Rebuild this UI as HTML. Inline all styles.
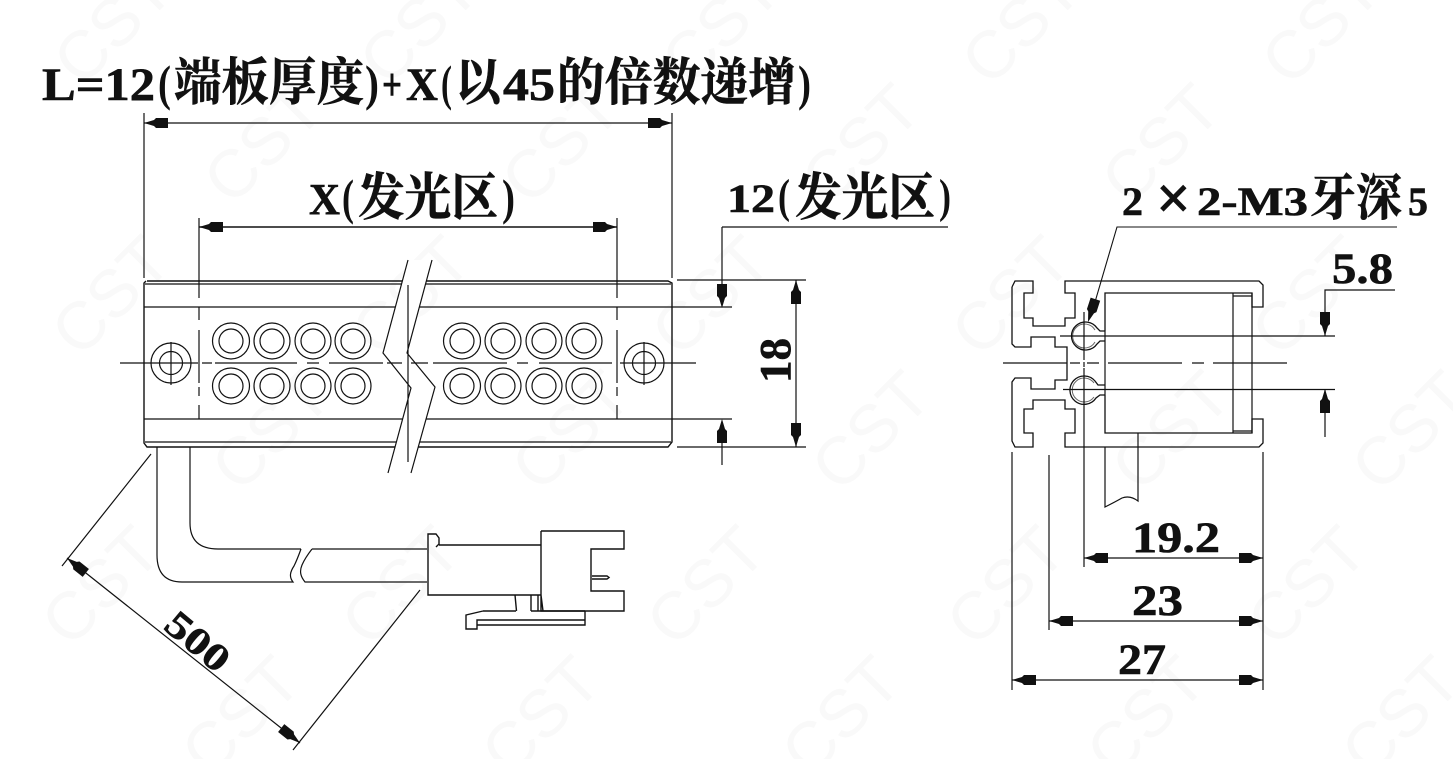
<!DOCTYPE html>
<html><head><meta charset="utf-8"><style>
html,body{margin:0;padding:0;background:#fff;width:1453px;height:759px;overflow:hidden}
svg{display:block}
.t{font-family:"Liberation Serif","Noto Serif CJK SC",serif;font-weight:bold;fill:#111;stroke:#111;stroke-width:.6}
.p{stroke-width:0}
.w{font-family:"Liberation Sans",sans-serif;font-size:67px;fill:#f9f9f9}
</style></head><body>
<div style="width:1453px;height:759px;overflow:hidden;position:relative">
<svg width="1453" height="759" viewBox="0 0 1453 759" xmlns="http://www.w3.org/2000/svg">
<defs><polygon id="a" points="0,0 -10,-3 -12,-5 -24,-5 -24,5 -12,5 -10,3" fill="#111"/></defs>
<rect width="1453" height="759" fill="#fff"/>
<g class="w" text-anchor="middle">
<text transform="translate(112,24) rotate(-45)" dy="24">CST</text><text transform="translate(418,24) rotate(-45)" dy="24">CST</text><text transform="translate(720,24) rotate(-45)" dy="24">CST</text><text transform="translate(1020,24) rotate(-45)" dy="24">CST</text><text transform="translate(1320,24) rotate(-45)" dy="24">CST</text>
<text transform="translate(262,143) rotate(-45)" dy="24">CST</text><text transform="translate(560,143) rotate(-45)" dy="24">CST</text><text transform="translate(860,143) rotate(-45)" dy="24">CST</text><text transform="translate(1160,143) rotate(-45)" dy="24">CST</text>
<text transform="translate(110,295) rotate(-45)" dy="24">CST</text><text transform="translate(410,295) rotate(-45)" dy="24">CST</text><text transform="translate(710,295) rotate(-45)" dy="24">CST</text><text transform="translate(1010,295) rotate(-45)" dy="24">CST</text><text transform="translate(1310,295) rotate(-45)" dy="24">CST</text>
<text transform="translate(270,430) rotate(-45)" dy="24">CST</text><text transform="translate(570,430) rotate(-45)" dy="24">CST</text><text transform="translate(870,430) rotate(-45)" dy="24">CST</text><text transform="translate(1170,430) rotate(-45)" dy="24">CST</text><text transform="translate(1410,430) rotate(-45)" dy="24">CST</text>
<text transform="translate(100,585) rotate(-45)" dy="24">CST</text><text transform="translate(400,585) rotate(-45)" dy="24">CST</text><text transform="translate(705,585) rotate(-45)" dy="24">CST</text><text transform="translate(1005,585) rotate(-45)" dy="24">CST</text><text transform="translate(1306,585) rotate(-45)" dy="24">CST</text>
<text transform="translate(240,715) rotate(-45)" dy="24">CST</text><text transform="translate(540,715) rotate(-45)" dy="24">CST</text><text transform="translate(840,715) rotate(-45)" dy="24">CST</text><text transform="translate(1145,715) rotate(-45)" dy="24">CST</text><text transform="translate(1400,715) rotate(-45)" dy="24">CST</text>
</g>

<g fill="none" stroke="#111" stroke-width="1.2">
<path d="M147,281H668L672,283V442L668,447H147L144,443V283L146,281" stroke-width="1.4"/>
<path d="M145,284H671M145,442H671M144,307H732M144,419H732"/>
<path d="M144,113V278M672,113V278M144,123H672"/>
<path d="M199,218V298M199,307V320M199,330V383M199,387V396M199,405V419"/>
<path d="M617,218V298M617,307V320M617,330V383M617,387V396M617,405V419"/>
<path d="M199,227H617" stroke-width="1.6"/>
<path d="M120,363H198M202,363H212M215,363H297M307,363H319M329,363H383"/>
<path d="M433,363H507M517,363H528M539,363H612M620,363H696"/>
<g>
<ellipse cx="231" cy="341" rx="18.500" ry="18"/><ellipse cx="231" cy="341" rx="12" ry="12"/>
<ellipse cx="272" cy="341" rx="18" ry="18"/><ellipse cx="272" cy="341" rx="12" ry="12"/>
<ellipse cx="313" cy="341" rx="18" ry="18"/><ellipse cx="313" cy="341" rx="12" ry="12"/>
<ellipse cx="353" cy="341" rx="18" ry="18"/><ellipse cx="353" cy="341" rx="12" ry="12"/>
<ellipse cx="231" cy="386" rx="18.500" ry="18"/><ellipse cx="231" cy="386" rx="12" ry="12"/>
<ellipse cx="272" cy="386" rx="18" ry="18"/><ellipse cx="272" cy="386" rx="12" ry="12"/>
<ellipse cx="313" cy="386" rx="18" ry="18"/><ellipse cx="313" cy="386" rx="12" ry="12"/>
<ellipse cx="353" cy="386" rx="18" ry="18"/><ellipse cx="353" cy="386" rx="12" ry="12"/>
<ellipse cx="462" cy="341" rx="18.500" ry="18"/><ellipse cx="462" cy="341" rx="12" ry="12"/>
<ellipse cx="503" cy="341" rx="18" ry="18"/><ellipse cx="503" cy="341" rx="12" ry="12"/>
<ellipse cx="544" cy="341" rx="18" ry="18"/><ellipse cx="544" cy="341" rx="12" ry="12"/>
<ellipse cx="584" cy="341" rx="18" ry="18"/><ellipse cx="584" cy="341" rx="12" ry="12"/>
<ellipse cx="462" cy="386" rx="18.500" ry="18"/><ellipse cx="462" cy="386" rx="12" ry="12"/>
<ellipse cx="503" cy="386" rx="18" ry="18"/><ellipse cx="503" cy="386" rx="12" ry="12"/>
<ellipse cx="544" cy="386" rx="18" ry="18"/><ellipse cx="544" cy="386" rx="12" ry="12"/>
<ellipse cx="584" cy="386" rx="18" ry="18"/><ellipse cx="584" cy="386" rx="12" ry="12"/>
</g>
<circle cx="171" cy="363" r="20"/><circle cx="171" cy="363" r="11.500"/><path d="M171,342V385"/>
<circle cx="644" cy="363" r="20"/><circle cx="644" cy="363" r="11.500"/><path d="M644,342V385"/>
<polygon points="408,260 383,353 411,388 388,473 411,473 435,387 407,353 432,260" fill="#fff" stroke="none"/>
<path d="M408,260L383,353L411,388L388,473M432,260L407,353L435,387L411,473M408,285V462"/>
<path d="M387,363H402M411,363H428"/>
<path d="M677,280H806M677,447H806M796,280V447M722,227V285M722,442V465M722,227H948"/>
<path d="M157,447V555Q157,582 182,582H293C289,577 290,572 294,566Q297,560 301,549"/>
<path d="M190,447V523Q190,549 218,549H301"/>
<path d="M312,549Q305,558 302,565C299,572 301,577 305,582H427M312,549H427"/>
<path d="M428,550V534H436L439,538V544L436,547M439,545H541M428,534V595H541M541,531H624V549H591V591H624V611H541V531M592,576H607L609,577.500L607,579H592M515,595L516.500,611M531,595V611M538,595V611M541,595L543,611" stroke-width="1.4"/>
<path d="M483,611L466,615V629H477V625H585V611M483,611H516M531,611H585M477,625V620H585" stroke-width="1.4"/>
<path d="M151,454L62,566M420,590L293,750M67,558L300,743"/>
<path d="M1012,287L1015,281H1033V293H1024V318H1033V326H1065V318H1075V293H1065V281H1259L1263,285V307H1252V293H1105V331" stroke-width="1.3"/>
<path d="M1012,287V344L1015,347H1031V337H1055V347H1067V380H1055V389H1031V378H1015L1012,382V441L1015,447H1033V433H1024V409H1033V400H1065V409H1075V433H1065V447H1259L1263,443V419H1252V433H1105V395" stroke-width="1.3"/>
<path d="M1105,331V395M1233,293V433M1252,293V433M1233,296H1252M1233,431H1252"/>
<path d="M1105,447V507Q1115,502 1122,498Q1130,495 1138,501V433"/>
<path d="M1105,331H1100L1097,328A14,14 0 1 0 1097,344L1100,341H1105" stroke-width="1.3"/>
<path d="M1095,330A12,12 0 1 0 1095,342" stroke="#666" stroke-width="1"/>
<path d="M1105,385H1098L1095,381A14.200,14.200 0 1 0 1096,398L1100,395H1105" stroke-width="1.3"/>
<path d="M1094,383A12,12 0 1 0 1094,397" stroke="#666" stroke-width="1"/>
<path d="M1003,363H1067M1070,363H1080M1087,363H1099M1108,363H1182M1192,363H1204M1213,363H1287"/>
<path d="M1060,336H1335M1063,389.500H1335M1084,312V360M1084,362V367M1084,368V567M1084,558H1263"/>
<path d="M1049,455V630M1049,621H1263M1012,452V690M1012,680H1263M1263,452V690"/>
<path d="M1397,227H1117L1095,302" stroke-width="1.1"/>
<path d="M1395,290H1325V336M1325,389V437"/>
</g>
<use href="#a" transform="translate(144,123) rotate(180)"/>
<use href="#a" transform="translate(672,123)"/>
<use href="#a" transform="translate(199,227) rotate(180)"/>
<use href="#a" transform="translate(617,227)"/>
<use href="#a" transform="translate(722,308) rotate(90)"/>
<use href="#a" transform="translate(722,419) rotate(-90)"/>
<use href="#a" transform="translate(796,280) rotate(-90)"/>
<use href="#a" transform="translate(796,447) rotate(90)"/>
<use href="#a" transform="translate(67,558) rotate(218.400)"/>
<use href="#a" transform="translate(300,743) rotate(38.400)"/>
<use href="#a" transform="translate(1088,322) rotate(108)"/>
<use href="#a" transform="translate(1325,336) rotate(90)"/>
<use href="#a" transform="translate(1325,389) rotate(-90)"/>
<use href="#a" transform="translate(1084,558) rotate(180)"/>
<use href="#a" transform="translate(1263,558)"/>
<use href="#a" transform="translate(1049,621) rotate(180)"/>
<use href="#a" transform="translate(1263,621)"/>
<use href="#a" transform="translate(1012,680) rotate(180)"/>
<use href="#a" transform="translate(1263,680)"/>

<g class="t">
<text font-size="47" x="42" y="100" textLength="113" lengthAdjust="spacingAndGlyphs">L=12</text>
<text class="p" font-size="50" x="158" y="100" textLength="13" lengthAdjust="spacingAndGlyphs">(</text>
<text font-size="51" x="174" y="100" textLength="190" lengthAdjust="spacingAndGlyphs">端板厚度</text>
<text class="p" font-size="50" x="365" y="100" textLength="14" lengthAdjust="spacingAndGlyphs">)</text>
<text font-size="47" x="382" y="100" textLength="20" lengthAdjust="spacingAndGlyphs">+</text>
<text font-size="47" x="406" y="100" textLength="32" lengthAdjust="spacingAndGlyphs">X</text>
<text class="p" font-size="50" x="441" y="100" textLength="11" lengthAdjust="spacingAndGlyphs">(</text>
<text font-size="51" x="455" y="100" textLength="46" lengthAdjust="spacingAndGlyphs">以</text>
<text font-size="47" x="503" y="100" textLength="52" lengthAdjust="spacingAndGlyphs">45</text>
<text font-size="51" x="557" y="100" textLength="239" lengthAdjust="spacingAndGlyphs">的倍数递增</text>
<text class="p" font-size="50" x="798" y="100" textLength="13" lengthAdjust="spacingAndGlyphs">)</text>

<text font-size="44" x="309" y="214" textLength="31" lengthAdjust="spacingAndGlyphs">X</text>
<text class="p" font-size="50" x="342" y="214" textLength="12" lengthAdjust="spacingAndGlyphs">(</text>
<text font-size="51" x="358" y="215" textLength="140" lengthAdjust="spacingAndGlyphs">发光区</text>
<text class="p" font-size="50" x="502" y="214" textLength="13" lengthAdjust="spacingAndGlyphs">)</text>

<text font-size="40" x="727" y="212" textLength="48" lengthAdjust="spacingAndGlyphs">12</text>
<text class="p" font-size="48" x="778" y="212" textLength="12" lengthAdjust="spacingAndGlyphs">(</text>
<text font-size="51" x="795" y="215" textLength="140" lengthAdjust="spacingAndGlyphs">发光区</text>
<text class="p" font-size="48" x="939" y="212" textLength="12" lengthAdjust="spacingAndGlyphs">)</text>

<text font-size="40" x="1122" y="215" textLength="21" lengthAdjust="spacingAndGlyphs">2</text>
<text font-size="62" x="1156" y="219" textLength="35" lengthAdjust="spacingAndGlyphs">×</text>
<text font-size="40" x="1197" y="215" textLength="111" lengthAdjust="spacingAndGlyphs">2-M3</text>
<text font-size="50" x="1310" y="215" textLength="92" lengthAdjust="spacingAndGlyphs">牙深</text>
<text font-size="40" x="1408" y="215" textLength="20" lengthAdjust="spacingAndGlyphs">5</text>

<text font-size="43" x="1332" y="283" textLength="61" lengthAdjust="spacingAndGlyphs">5.8</text>
<text font-size="43" x="1132" y="552" textLength="88" lengthAdjust="spacingAndGlyphs">19.2</text>
<text font-size="43" x="1132" y="615" textLength="51" lengthAdjust="spacingAndGlyphs">23</text>
<text font-size="43" x="1118" y="674" textLength="48" lengthAdjust="spacingAndGlyphs">27</text>
<text font-size="44" transform="translate(790,383) rotate(-90)" textLength="45" lengthAdjust="spacingAndGlyphs">18</text>
<text font-size="38" transform="translate(162,628) rotate(40)" textLength="72" lengthAdjust="spacingAndGlyphs">500</text>
</g>
</svg>
</div>
</body></html>
